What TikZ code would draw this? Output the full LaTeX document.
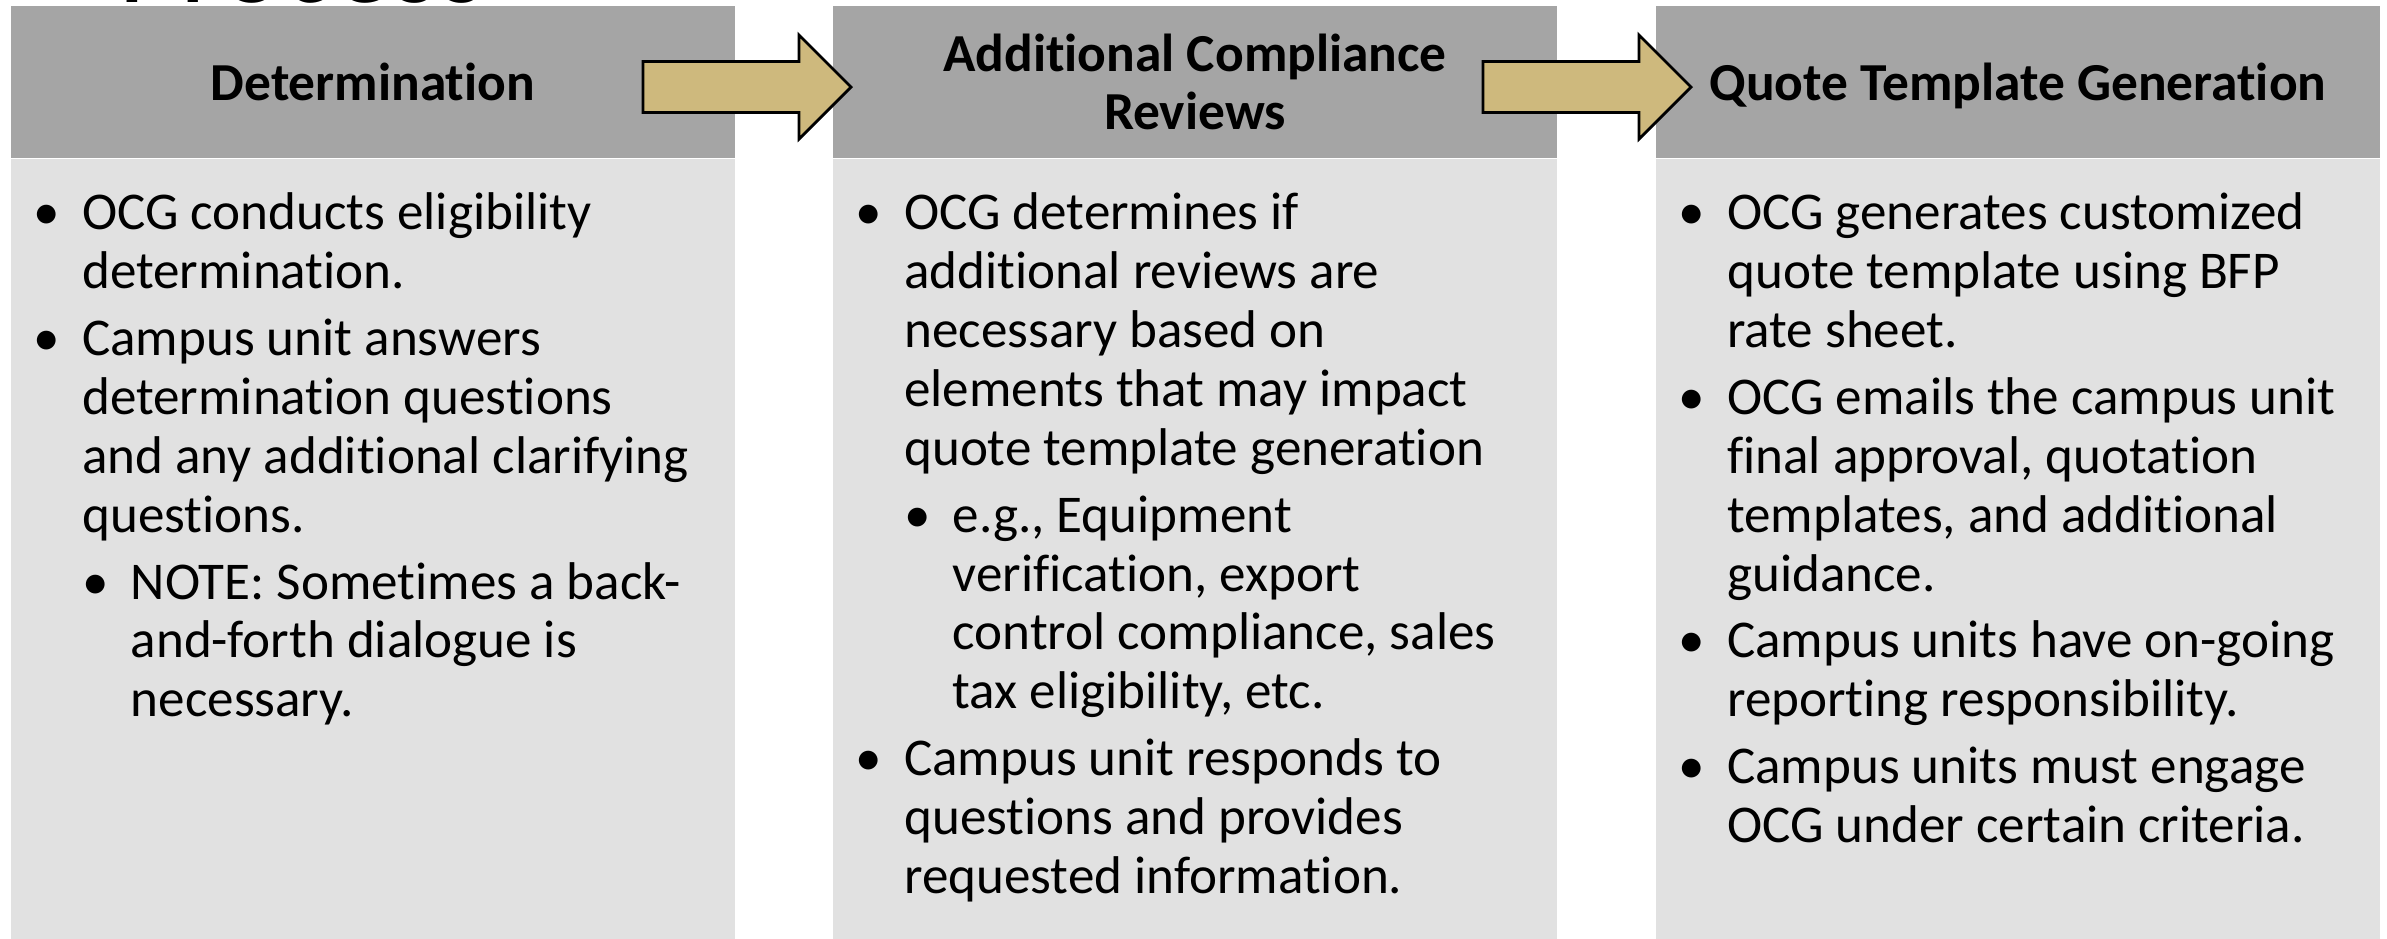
\documentclass[tikz,border=0pt]{standalone}
\usepackage{fontspec}
\setmainfont{Carlito}[Ligatures=NoCommon]
\usepackage{tikz}
\usetikzlibrary{positioning}

\definecolor{hdrgray}{RGB}{165,165,165}
\definecolor{bodygray}{RGB}{225,225,225}
\definecolor{oldgold}{RGB}{206,185,125}

% bullet that hangs left of the text
\newcommand{\bul}{\makebox[0pt][r]{\textbullet\hspace{0.22cm}}}
\newcommand{\subbul}{\hspace*{0.485cm}\bul}
\newcommand{\subind}{\hspace*{0.485cm}}

\tikzset{
  hdr/.style={fill=hdrgray, inner sep=0pt, minimum width=7.24cm, minimum height=1.52cm,
    align=center, text depth=0pt, font=\fontsize{15.2pt}{16.3pt}\selectfont\bfseries},
  bodybox/.style={fill=bodygray, inner sep=0pt, minimum width=7.24cm, minimum height=7.81cm},
  itemtext/.style={inner sep=0pt, align=left, anchor=north west,
    font=\fontsize{15.1pt}{16.75pt}\selectfont},
  flowarrow/.style={fill=oldgold, draw=black, line width=0.8pt, line join=miter}
}

\begin{document}
\begin{tikzpicture}[x=0.01cm, y=-0.01cm]
        \useasboundingbox (0,0) rectangle (2387,938);

        % slide title, mostly above the page
        \begin{scope}
          \clip (0,0) rectangle (2387,938);
          \node[anchor=base west, inner sep=0pt, font=\fontsize{33.9pt}{36pt}\selectfont] (title) at (118,2) {Process};
        \end{scope}

        % the three columns
        \node[hdr, anchor=north west] (hdr1) at (10,5) {Determination};
        \node[hdr, anchor=north west] (hdr2) at (832,5) {Additional Compliance\\Reviews};
        \node[hdr, anchor=north west] (hdr3) at (1655,5) {Quote Template Generation};

        \node[bodybox, below=0pt of hdr1] (body1) {};
        \node[bodybox, below=0pt of hdr2] (body2) {};
        \node[bodybox, below=0pt of hdr3] (body3) {};

        \node[itemtext, below right=0.335cm and 0.715cm of body1.north west] (txt1) {%
          \bul OCG conducts eligibility\\
          determination.\\[0.08cm]
          \bul Campus unit answers\\
          determination questions\\
          and any additional clarifying\\
          questions.\\[0.08cm]
          \subbul NOTE: Sometimes a back-\\
          \subind and-forth dialogue is\\
          \subind necessary.};

        \node[itemtext, below right=0.335cm and 0.715cm of body2.north west] (txt2) {%
          \bul OCG determines if\\
          additional reviews are\\
          necessary based on\\
          elements that may impact\\
          quote template generation\\[0.08cm]
          \subbul e.g., Equipment\\
          \subind verification, export\\
          \subind control compliance, sales\\
          \subind tax eligibility, etc.\\[0.08cm]
          \bul Campus unit responds to\\
          questions and provides\\
          requested information.};

        \node[itemtext, below right=0.335cm and 0.715cm of body3.north west] (txt3) {%
          \bul OCG generates customized\\
          quote template using BFP\\
          rate sheet.\\[0.08cm]
          \bul OCG emails the campus unit\\
          final approval, quotation\\
          templates, and additional\\
          guidance.\\[0.08cm]
          \bul Campus units have on-going\\
          reporting responsibility.\\[0.08cm]
          \bul Campus units must engage\\
          OCG under certain criteria.};

        % block arrows between the headers
        \coordinate (a1) at (643,87);
        \coordinate (a2) at (1483,87);
        \foreach \a in {a1,a2}
          \draw[flowarrow] (\a) ++(0,-25.5) -- ++(156,0) -- ++(0,-26.5) -- ++(52,52)
            -- ++(-52,52) -- ++(0,-26.5) -- ++(-156,0) -- cycle;
\end{tikzpicture}
\end{document}
